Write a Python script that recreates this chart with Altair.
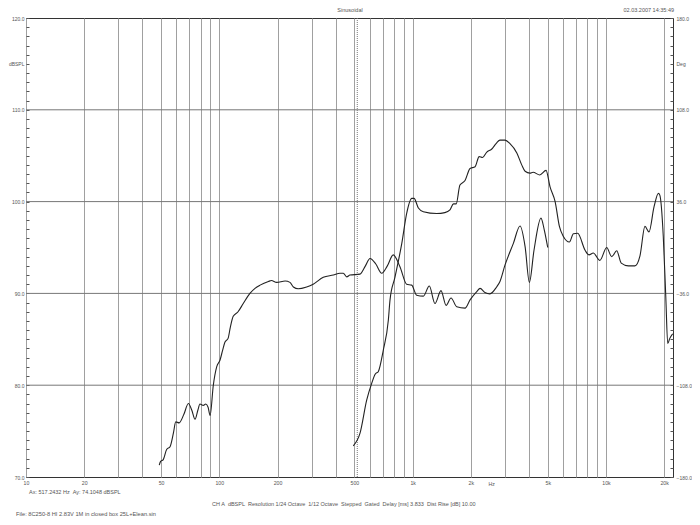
import altair as alt
import pandas as pd

# woofer curve (Hz, dBSPL)
woofer_hz = [48.9, 49.7, 51.3, 53.4, 55.6, 57.9, 59.5, 62.0, 65.5, 69.2, 72.0, 74.9,
             77.5, 79.4, 82.6, 85.1, 87.5, 89.6, 93.1, 96.9, 100.9, 104, 107, 111,
             114, 118, 125, 133, 144, 153, 162.5, 179.5, 186, 198, 219, 232, 241.7,
             256, 283, 306, 345, 389, 421, 438, 456, 474, 534, 570, 602, 645, 692,
             740, 794, 860, 931, 989, 1049, 1136, 1220, 1305, 1402, 1489, 1580,
             1692, 1867, 1982, 2147, 2233, 2367, 2510, 2720, 2830, 3007, 3320, 3594,
             3818, 4018, 4245, 4613, 4800, 5000]
woofer_db = [71.3, 71.7, 71.9, 73.0, 73.3, 74.8, 76.0, 75.9, 76.8, 78.0, 77.3, 76.3,
             77.3, 77.95, 77.8, 77.95, 77.6, 76.7, 80.0, 82.0, 82.75, 83.8, 84.7, 85.1,
             86.3, 87.5, 88.0, 88.9, 90.0, 90.55, 90.9, 91.3, 91.4, 91.2, 91.35, 91.2, 90.7,
             90.5, 90.7, 91.0, 91.75, 92.0, 92.2, 92.2, 91.8, 92.0, 92.1, 93.0, 93.8, 93.2, 92.2,
             93.0, 94.2, 92.9, 91.0, 90.9, 89.8, 89.7, 90.8, 88.9, 90.3, 88.7, 89.5,
             88.55, 88.4, 89.3, 90.2, 90.55, 90.1, 89.95, 90.7, 91.3, 93.1, 95.45, 97.35,
             95.1, 91.2, 94.7, 98.2, 96.9, 95.0]

# tweeter curve
tweeter_hz = [493, 534, 579, 614, 640, 665, 705, 749, 764, 811, 879, 931, 989, 1017,
              1071, 1136, 1333, 1468, 1560, 1627, 1680, 1757, 1867, 1982, 2105, 2209,
              2300, 2420, 2560, 2710, 2830, 3007, 3180, 3460, 3667, 3818, 4044, 4200,
              4550, 4900, 5140, 5460, 5745, 6025, 6470, 6790, 7140, 7800, 8170, 8600,
              9310, 10090, 10710, 11370, 12000, 13060, 14120, 15000, 15920, 16700,
              17740, 18680, 19000, 19800, 20400, 20880, 21400, 22130]
tweeter_db = [73.4, 74.75, 78.4, 80.2, 81.2, 81.5, 83.8, 87.1, 89.3, 91.8, 95.45, 98.7, 100.35, 100.35,
              99.3, 98.9, 98.7, 98.8, 99.1, 99.75, 99.75, 101.8, 102.3, 103.6, 103.8, 104.9,
              104.8, 105.4, 105.7, 106.35, 106.7, 106.7, 106.35, 105.3, 104.0, 103.3, 103.1, 103.2,
              102.9, 103.4, 101.6, 100.0, 97.3, 96.2, 95.6, 96.5, 96.55, 94.7, 94.2, 94.4,
              93.6, 95.0, 94.0, 94.65, 93.3, 93.0, 93.0, 94.1, 97.3, 96.7,
              99.45, 100.9, 100.7, 96.2, 89.6, 84.55, 85.1, 85.6]

grid_hz = ([v * 10 for v in range(2, 10)] + [v * 100 for v in range(1, 10)]
           + [v * 1000 for v in range(1, 10)] + [10000, 20000])
label_hz = [10, 20, 50, 100, 200, 500, 1000, 2000, 5000, 10000, 20000]
grid_db = [80, 90, 100, 110]
tick_db = list(range(70, 121))
cursor_hz = [517.2432]

FONT = "Liberation Sans"
TXT = "#555555"
SP = "\u00a0\u00a0"  # svg collapses plain spaces

df = pd.DataFrame({
    "freq": woofer_hz + tweeter_hz,
    "db": woofer_db + tweeter_db,
    "series": ["woofer"] * len(woofer_hz) + ["tweeter"] * len(tweeter_hz),
})

x_axis = alt.Axis(
    values=[10] + grid_hz, grid=True, gridColor="#a0a0a0", gridWidth=1,
    domain=False, ticks=False, labelFlush=False, labelOverlap=False,
    labelExpr="indexof(" + str(label_hz) + ", datum.value) >= 0 ? "
              "(datum.value >= 1000 ? (datum.value / 1000) + 'k' : '' + datum.value) : ''",
    labelFont=FONT, labelFontSize=5.2, labelColor=TXT, labelPadding=3, title=None,
)
x_enc = alt.X("freq:Q", scale=alt.Scale(type="log", domain=[10, 22230], nice=False), axis=x_axis)
y_scale = alt.Scale(domain=[70, 120], nice=False, zero=False)

left_axis = alt.Axis(
    values=tick_db, orient="left", offset=-3, tickSize=3, tickColor="#555",
    domain=False, grid=False, labelOverlap=False, labelFlush=False, labelPadding=2,
    labelExpr="datum.value == 115 ? 'dBSPL' : (datum.value % 10 == 0 ? format(datum.value, '.1f') : '')",
    labelFont=FONT, labelFontSize=5, labelColor=TXT, title=None,
)
right_axis = alt.Axis(
    values=tick_db, orient="right", offset=-3, tickSize=3, tickColor="#555",
    domain=False, grid=False, labelOverlap=False, labelFlush=False, labelPadding=3,
    labelExpr="datum.value == 115 ? 'Deg' : (datum.value % 10 == 0 ? format((datum.value - 95) * 7.2, '.1f') : '')",
    labelFont=FONT, labelFontSize=5, labelColor=TXT, title=None,
)

hgrid = alt.Chart(pd.DataFrame({"db": grid_db})).mark_rule(color="#777777", strokeWidth=1).encode(
    y=alt.Y("db:Q", scale=y_scale, axis=left_axis)
)

cursor = alt.Chart(pd.DataFrame({"freq": cursor_hz})).mark_rule(
    color="#777777", strokeDash=[1, 1], strokeWidth=1
).encode(x=x_enc)

curves = alt.Chart(df).mark_line(color="#222222", strokeWidth=1.1, interpolate="monotone", clip=True).encode(
    x=x_enc,
    y=alt.Y("db:Q", scale=y_scale, axis=left_axis),
    detail="series:N",
)

right = alt.Chart(pd.DataFrame({"db": grid_db})).mark_rule(opacity=0).encode(
    y=alt.Y("db:Q", scale=y_scale, axis=right_axis)
)


def note(text, px, py, align="left", size=5.5):
    return alt.Chart(pd.DataFrame({"t": [text]})).mark_text(
        font=FONT, fontSize=size, color=TXT, align=align, baseline="middle"
    ).encode(x=alt.value(px), y=alt.value(py), text="t:N")


notes = alt.layer(
    note("Sinusoidal", 324, -8, "center"),
    note("02.03.2007 14:35:49", 648, -8, "right"),
    note("Hz", 465.7, 465.5, "center", 5.2),
    note("Ax: 517.2432 Hz" + SP + "Ay: 74.1048 dBSPL", 3, 473.5),
    note(SP.join(["CH A", "dBSPL", "Resolution 1/24 Octave", "1/12 Octave", "Stepped",
                  "Gated", "Delay [ms] 3.833", "Dist Rise [dB] 10.00"]), 186, 486),
    note("File: 8C250-8 HI 2.83V 1M in closed box 25L+Elean.sin", -10, 496, size=5.7),
)

left = alt.layer(hgrid, cursor, curves, notes)

chart = alt.layer(left, right).resolve_scale(y="independent").properties(
    width=647, height=459,
    autosize=alt.AutoSizeParams(type="none"),
    padding={"left": 18, "top": 10, "right": 19, "bottom": 40},
    background="white",
).configure_view(stroke="#333333", strokeWidth=1)

chart.save("out.html", embed_options={"renderer": "svg", "actions": False})
